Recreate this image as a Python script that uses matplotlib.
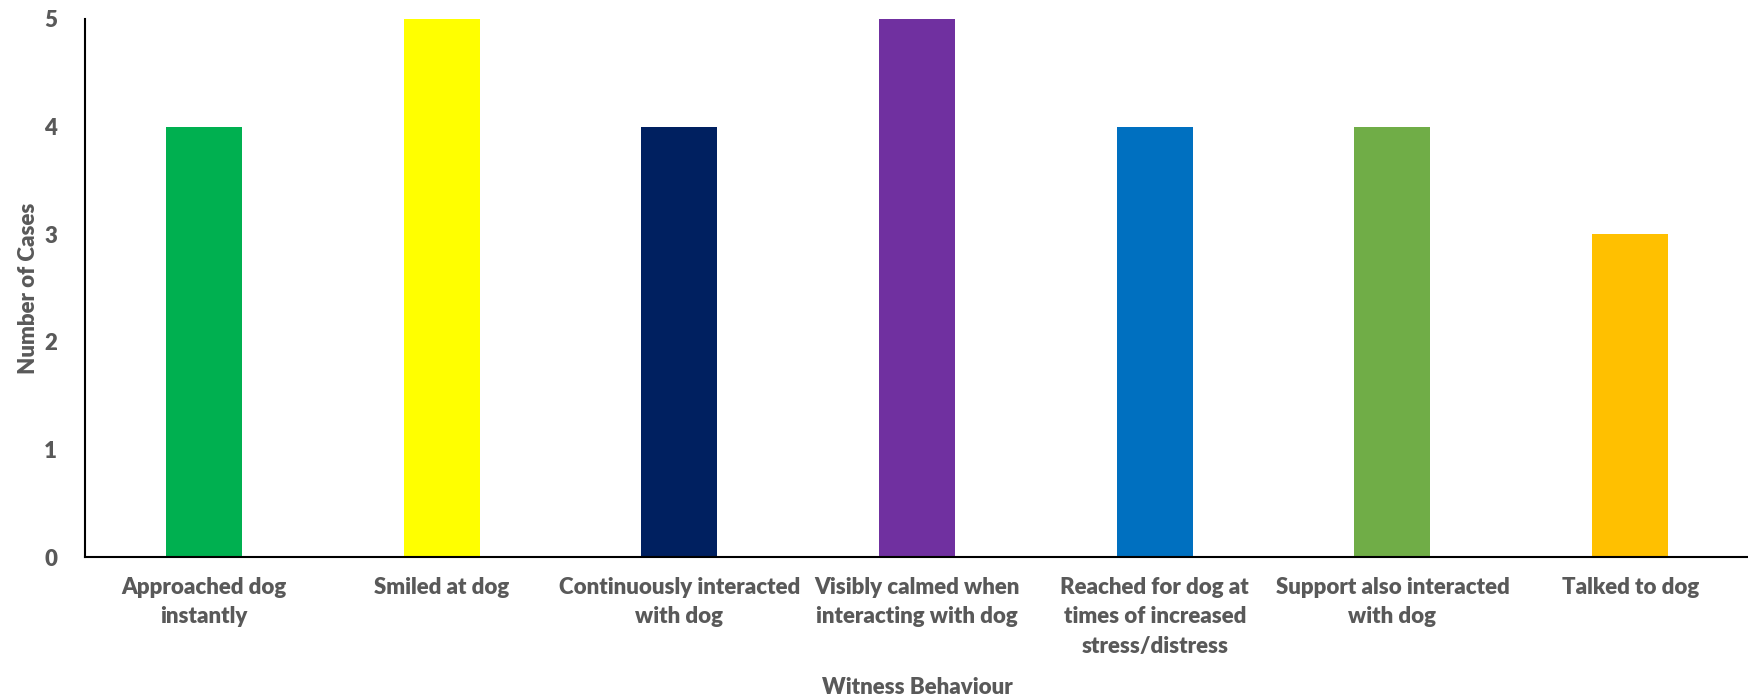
import matplotlib.pyplot as plt

# witness behaviour counts
labels = ["Approached dog\ninstantly", "Smiled at dog", "Continuously interacted\nwith dog",
          "Visibly calmed when\ninteracting with dog", "Reached for dog at\ntimes of increased\nstress/distress",
          "Support also interacted\nwith dog", "Talked to dog"]
cases = [4, 5, 4, 5, 4, 4, 3]
colours = ["#00B050", "#FFFF00", "#002060", "#7030A0", "#0070C0", "#70AD47", "#FFC000"]

plt.rcParams['font.family'] = ['Lato', 'DejaVu Sans']
grey = "#595959"

fig = plt.figure(figsize=(17.49, 7), dpi=100)
ax = fig.add_axes([0.0486, 0.204, 0.9514, 0.769])

ax.bar(range(len(cases)), cases, width=0.32, color=colours, linewidth=0)
ax.set_xlim(-0.5, len(cases) - 0.5)
ax.set_ylim(0, 5)
ax.set_yticks(range(6))
ax.set_xticks(range(len(cases)))
ax.set_xticklabels(labels, fontsize=16, fontweight="heavy", color=grey, linespacing=1.5)
ax.tick_params(axis="y", labelsize=16, labelcolor=grey, length=0, pad=20)
ax.tick_params(axis="x", length=0, pad=14)
for t in ax.get_yticklabels():
    t.set_fontweight("heavy")

ax.spines["top"].set_visible(False)
ax.spines["right"].set_visible(False)
ax.spines["left"].set_linewidth(1.5)
ax.spines["bottom"].set_linewidth(1.5)

ax.set_ylabel("Number of Cases", fontsize=16, fontweight="heavy", color=grey)
ax.yaxis.set_label_coords(-0.0276, 0.5)
ax.set_xlabel("Witness Behaviour", fontsize=16, fontweight="heavy", color=grey)
ax.xaxis.set_label_coords(0.5, -0.222)

plt.savefig("out.png")
